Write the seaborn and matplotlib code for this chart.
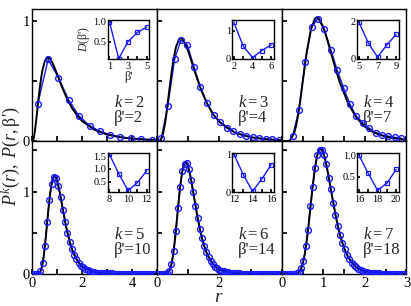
import matplotlib
matplotlib.use("Agg")
import matplotlib.pyplot as plt
import seaborn as sns

# theory curves P(r, beta')
th_r1 = [0, 0.05, 0.1, 0.15, 0.2, 0.25, 0.3, 0.35, 0.4, 0.5, 0.6, 0.7, 0.8, 0.9, 1.0, 1.2, 1.4, 1.6, 1.8, 2.0, 2.5, 3.0, 3.5, 4.0, 4.5, 5.0]
th_p1 = [0, 0.025, 0.089, 0.176, 0.272, 0.367, 0.455, 0.530, 0.591, 0.669, 0.697, 0.687, 0.653, 0.605, 0.551, 0.443, 0.349, 0.272, 0.213, 0.167, 0.095, 0.056, 0.035, 0.023, 0.016, 0.011]
th_r2 = [0, 0.1, 0.15, 0.2, 0.25, 0.3, 0.35, 0.4, 0.5, 0.6, 0.7, 0.75, 0.8, 0.9, 1.0, 1.1, 1.2, 1.4, 1.6, 1.8, 2.0, 2.5, 3.0, 3.5, 4.0]
th_p2 = [0, 0.007, 0.030, 0.075, 0.145, 0.235, 0.338, 0.446, 0.642, 0.780, 0.847, 0.856, 0.852, 0.812, 0.746, 0.667, 0.585, 0.434, 0.314, 0.224, 0.161, 0.071, 0.034, 0.017, 0.009]
th_r3 = [0, 0.1, 0.2, 0.3, 0.35, 0.4, 0.45, 0.5, 0.6, 0.7, 0.8, 0.85, 0.9, 1.0, 1.1, 1.2, 1.3, 1.4, 1.6, 1.8, 2.0, 2.2, 2.5, 3.0]
th_p3 = [0, 0.0001, 0.009, 0.071, 0.139, 0.235, 0.354, 0.485, 0.742, 0.932, 1.021, 1.03, 1.017, 0.946, 0.837, 0.714, 0.594, 0.485, 0.312, 0.195, 0.121, 0.076, 0.038, 0.013]
th_r4 = [0, 0.2, 0.3, 0.35, 0.4, 0.45, 0.5, 0.55, 0.6, 0.65, 0.7, 0.75, 0.8, 0.85, 0.9, 0.95, 1.0, 1.1, 1.2, 1.3, 1.4, 1.5, 1.6, 1.8, 2.0, 2.5, 3.0, 4.0, 5.0]
th_p4 = [0, 0.001, 0.020, 0.053, 0.116, 0.213, 0.342, 0.495, 0.660, 0.816, 0.957, 1.066, 1.141, 1.182, 1.19, 1.164, 1.117, 0.980, 0.814, 0.650, 0.505, 0.385, 0.289, 0.159, 0.086, 0.019, 0.004, 0.0003, 0.0]
th_r5 = [0, 0.3, 0.4, 0.45, 0.5, 0.55, 0.6, 0.65, 0.7, 0.75, 0.8, 0.85, 0.9, 0.95, 1.0, 1.05, 1.1, 1.15, 1.2, 1.3, 1.4, 1.5, 1.6, 1.8, 2.0, 2.5, 3.0, 4.0]
th_p5 = [0, 0.003, 0.042, 0.100, 0.199, 0.342, 0.523, 0.721, 0.920, 1.095, 1.229, 1.318, 1.357, 1.347, 1.298, 1.222, 1.122, 1.012, 0.899, 0.682, 0.496, 0.351, 0.243, 0.111, 0.050, 0.007, 0.001, 0.0]
th_r6 = [0, 0.3, 0.4, 0.45, 0.5, 0.55, 0.6, 0.65, 0.7, 0.75, 0.8, 0.85, 0.9, 0.95, 1.0, 1.05, 1.1, 1.15, 1.2, 1.3, 1.4, 1.5, 1.6, 1.8, 2.0, 2.5, 3.0]
th_p6 = [0, 0.0006, 0.015, 0.046, 0.113, 0.230, 0.405, 0.621, 0.864, 1.097, 1.293, 1.437, 1.513, 1.518, 1.470, 1.379, 1.255, 1.113, 0.969, 0.697, 0.474, 0.312, 0.199, 0.076, 0.028, 0.002, 0.0]

# numerical P^k(r)
pk_r1 = [0.21, 0.63, 1.04, 1.46, 1.87, 2.29, 2.70, 3.12, 3.53, 3.95, 4.36, 4.78]
pk_p1 = [0.31, 0.68, 0.53, 0.34, 0.21, 0.13, 0.085, 0.055, 0.035, 0.024, 0.017, 0.012]
pk_r2 = [0.13, 0.34, 0.56, 0.76, 0.97, 1.18, 1.39, 1.60, 1.81, 2.02, 2.23, 2.44, 2.65, 2.86, 3.07, 3.28, 3.49, 3.70, 3.91]
pk_p2 = [0.025, 0.29, 0.68, 0.84, 0.80, 0.62, 0.45, 0.32, 0.22, 0.16, 0.11, 0.083, 0.06, 0.045, 0.034, 0.026, 0.021, 0.017, 0.014]
pk_r3 = [0.26, 0.41, 0.56, 0.72, 0.87, 1.02, 1.18, 1.33, 1.49, 1.64, 1.79, 1.95, 2.10, 2.26, 2.41, 2.56, 2.72, 2.87]
pk_p3 = [0.044, 0.26, 0.66, 0.95, 1.02, 0.93, 0.76, 0.595, 0.44, 0.31, 0.21, 0.155, 0.11, 0.072, 0.052, 0.044, 0.033, 0.028]
pk_r4 = [0.05, 0.14, 0.23, 0.32, 0.41, 0.50, 0.59, 0.68, 0.77, 0.86, 0.95, 1.04, 1.13, 1.22, 1.31, 1.40, 1.49, 1.58,
         1.67, 1.76, 1.85, 1.94, 2.03, 2.12, 2.21, 2.30, 2.39, 2.48, 2.57, 2.66, 2.75, 2.84, 2.93, 3.02, 3.11, 3.20,
         3.29, 3.38, 3.47, 3.56, 3.65, 3.74, 3.83, 3.92, 4.01, 4.10, 4.19, 4.28, 4.37, 4.46, 4.55, 4.64, 4.73, 4.82, 4.91]
pk_p4 = [0.0, 0.0, 0.004, 0.03, 0.13, 0.34, 0.63, 0.90, 1.09, 1.18, 1.17, 1.07, 0.93, 0.78, 0.63, 0.50, 0.39, 0.30,
         0.23, 0.18, 0.135, 0.10, 0.078, 0.058, 0.044, 0.033, 0.025, 0.019, 0.015, 0.012, 0.010, 0.008, 0.007, 0.006,
         0.005, 0.005, 0.004, 0.004, 0.004, 0.003, 0.003, 0.003, 0.003, 0.002, 0.002, 0.002, 0.002, 0.002, 0.002,
         0.002, 0.001, 0.001, 0.001, 0.001, 0.001]
pk_r5 = [0.04, 0.11, 0.18, 0.25, 0.32, 0.39, 0.46, 0.53, 0.60, 0.67, 0.74, 0.81, 0.88, 0.95, 1.02, 1.09, 1.16, 1.23,
         1.30, 1.37, 1.44, 1.51, 1.58, 1.65, 1.72, 1.79, 1.86, 1.93, 2.00, 2.07, 2.14, 2.21, 2.28, 2.35, 2.42, 2.49,
         2.56, 2.63, 2.70, 2.77, 2.84, 2.91, 2.98, 3.05, 3.12, 3.19, 3.26, 3.33, 3.40, 3.47, 3.54, 3.61, 3.68, 3.75,
         3.82, 3.89, 3.96]
pk_p5 = [0, 0, 0, 0.0005, 0.006, 0.035, 0.12, 0.28, 0.52, 0.80, 1.06, 1.25, 1.34, 1.35, 1.27, 1.14, 0.99, 0.83,
         0.68, 0.55, 0.43, 0.34, 0.26, 0.20, 0.155, 0.115, 0.088, 0.066, 0.050, 0.038, 0.029, 0.022, 0.017, 0.013,
         0.010, 0.008, 0.006, 0.005, 0.004, 0.004, 0.003, 0.003, 0.003, 0.002, 0.002, 0.002, 0.002, 0.002, 0.001,
         0.001, 0.001, 0.001, 0.001, 0.001, 0.001, 0.001, 0.001]
pk_r6 = [0.03, 0.08, 0.14, 0.19, 0.25, 0.30, 0.36, 0.41, 0.47, 0.52, 0.58, 0.63, 0.69, 0.74, 0.80, 0.85, 0.91, 0.96,
         1.02, 1.07, 1.13, 1.18, 1.24, 1.29, 1.35, 1.40, 1.46, 1.51, 1.57, 1.62, 1.68, 1.73, 1.79, 1.84, 1.90, 1.95,
         2.01, 2.06, 2.12, 2.17, 2.23, 2.28, 2.34, 2.39, 2.45, 2.50, 2.56, 2.61, 2.67, 2.72, 2.78, 2.83, 2.89, 2.94]
pk_p6 = [0, 0, 0, 0, 0, 0.001, 0.005, 0.018, 0.07, 0.16, 0.335, 0.53, 0.82, 1.05, 1.29, 1.44, 1.51, 1.51,
         1.44, 1.33, 1.17, 1.03, 0.86, 0.72, 0.58, 0.47, 0.37, 0.30, 0.23, 0.18, 0.135, 0.105, 0.08, 0.062, 0.046,
         0.036, 0.027, 0.021, 0.016, 0.012, 0.009, 0.007, 0.005, 0.004, 0.003, 0.003, 0.003, 0.002, 0.002, 0.002,
         0.002, 0.002, 0.001, 0.001]

# inset data D(beta')
beta1 = [1, 2, 3, 4, 5]
d1 = [1.0, 0.08, 0.5, 0.73, 0.86]
beta2 = [2, 3, 4, 5, 6]
d2 = [1.3, 0.46, 0.05, 0.3, 0.5]
beta3 = [5, 6, 7, 8, 9]
d3 = [1.99, 0.88, 0.1, 0.76, 1.33]
beta4 = [8, 9, 10, 11, 12]
d4 = [1.57, 0.82, 0.16, 0.46, 0.93]
beta5 = [12, 13, 14, 15, 16]
d5 = [1.0, 0.46, 0.02, 0.34, 0.72]
beta6 = [16, 17, 18, 19, 20]
d6 = [1.0, 0.58, 0.19, 0.35, 0.67]

k_vals = [2, 3, 4, 5, 6, 7]
beta_best = [2, 4, 7, 10, 14, 18]

BLUE = '#1a1aff'

sns.set_theme(style="ticks", rc={
    "axes.edgecolor": "black", "axes.linewidth": 1.0,
    "xtick.direction": "in", "ytick.direction": "in",
    "xtick.color": "black", "ytick.color": "black",
    "xtick.major.size": 3.5, "ytick.major.size": 3.5,
})
plt.rcParams['font.family'] = ['Liberation Serif', 'DejaVu Serif']
plt.rcParams['mathtext.fontset'] = 'custom'
plt.rcParams['mathtext.rm'] = 'Liberation Serif'
plt.rcParams['mathtext.it'] = 'Liberation Serif:italic'

fig, axes = plt.subplots(2, 3, figsize=(4.11, 3.06), dpi=100)
fig.subplots_adjust(left=0.079, right=0.989, top=0.971, bottom=0.105, wspace=0, hspace=0)

theory = [(th_r1, th_p1), (th_r2, th_p2), (th_r3, th_p3), (th_r4, th_p4), (th_r5, th_p5), (th_r6, th_p6)]
numeric = [(pk_r1, pk_p1), (pk_r2, pk_p2), (pk_r3, pk_p3), (pk_r4, pk_p4), (pk_r5, pk_p5), (pk_r6, pk_p6)]
insets = [(beta1, d1), (beta2, d2), (beta3, d3), (beta4, d4), (beta5, d5), (beta6, d6)]

xlims = [5, 4, 3]
xtick_sets = [[0, 1, 2, 3, 4, 5], [0, 1, 2, 3, 4], [0, 0.5, 1, 1.5, 2, 2.5, 3]]
xlabel_sets = [['0', '', '2', '', '4', ''], ['0', '', '2', '', ''], ['0', '', '1', '', '2', '', '3']]
inset_ylims = [(0.07, 1.05), (0, 1.4), (0, 2.13), (0.1, 1.64), (0, 1.04), (0.15, 1.06)]
inset_yticks = [[0.5, 1.0], [0, 1], [0, 2], [0.5, 1.0, 1.5], [0, 1], [0.5, 1.0]]
inset_ylabels = [['0.5', '1.0'], ['0', '1'], ['0', '2'], ['0.5', '1.0', '1.5'], ['0', '1'], ['0.5', '1.0']]

for i, ax in enumerate(axes.flat):
    row, col = divmod(i, 3)
    r_th, p_th = theory[i]
    r_pk, p_pk = numeric[i]

    sns.lineplot(x=r_pk, y=p_pk, ax=ax, color=BLUE, lw=1.0, estimator=None, sort=False, zorder=2)
    sns.lineplot(x=r_th, y=p_th, ax=ax, color='black', lw=1.4, estimator=None, sort=False, zorder=3)
    sns.lineplot(x=r_pk, y=p_pk, ax=ax, color=BLUE, lw=0, marker='o', markersize=4.2,
                 estimator=None, sort=False, zorder=4)
    # hollow circles
    ax.lines[-1].set_markerfacecolor('none')
    ax.lines[-1].set_markeredgecolor(BLUE)
    ax.lines[-1].set_markeredgewidth(1.0)

    ax.set_xlim(0, xlims[col])
    ax.set_xticks(xtick_sets[col])
    if row == 1:
        ax.set_xticklabels(xlabel_sets[col], fontsize=10.5)
        ax.set_ylim(0, 1.61)
        ax.set_yticks([0, 0.5, 1, 1.5])
        ylabs = ['0', '', '1', '']
    else:
        ax.set_xticklabels([])
        ax.set_ylim(0, 1.1)
        ax.set_yticks([0, 0.5, 1])
        ylabs = ['0', '', '1']
    if col == 0:
        ax.set_yticklabels(ylabs, fontsize=10.5)
    else:
        ax.set_yticklabels([])
    ax.tick_params(pad=2)
    ax.set_xlabel('')
    ax.set_ylabel('')

    ax.text(0.65, 0.29, f'$k = {k_vals[i]}$', transform=ax.transAxes, fontsize=12, va='center')
    ax.text(0.65, 0.18, f"β'={beta_best[i]}", transform=ax.transAxes, fontsize=12, va='center')

    # inset
    left_px = [107.5, 232.0, 357.0][col]
    top_px = [19.5, 152.5][row]
    iax = fig.add_axes([left_px / 411, 1 - (top_px + 39.5) / 306, 41.5 / 411, 39.5 / 306])
    b, d = insets[i]
    sns.lineplot(x=b, y=d, ax=iax, color=BLUE, lw=1.0, marker='s', markersize=3.2,
                 estimator=None, sort=False)
    iax.lines[-1].set_markerfacecolor('none')
    iax.lines[-1].set_markeredgecolor(BLUE)
    iax.lines[-1].set_markeredgewidth(0.9)
    iax.set_xlim(b[0] - 0.2, b[-1] + 0.25)
    iax.set_ylim(*inset_ylims[i])
    iax.set_xticks(b)
    iax.set_xticklabels([str(b[0]), '', str(b[2]), '', str(b[4])], fontsize=7.5)
    iax.set_yticks(inset_yticks[i])
    iax.set_yticklabels(inset_ylabels[i], fontsize=7.5)
    iax.tick_params(axis='x', length=2, pad=2.5)
    iax.tick_params(axis='y', length=2, pad=0.8)
    iax.set_xlabel('')
    iax.set_ylabel('')
    if i == 0:
        iax.set_xlabel("β'", fontsize=9, labelpad=0)
        iax.set_ylabel("$D$(β')", fontsize=8.5, labelpad=1)

fig.text(0.533, 0.028, '$r$', ha='center', va='center', fontsize=14)
fig.text(0.027, 0.49, "$P^k(r),\\ P(r,$β'$)$", rotation=90, ha='center', va='center', fontsize=13)

fig.savefig('out.png', dpi=100)
